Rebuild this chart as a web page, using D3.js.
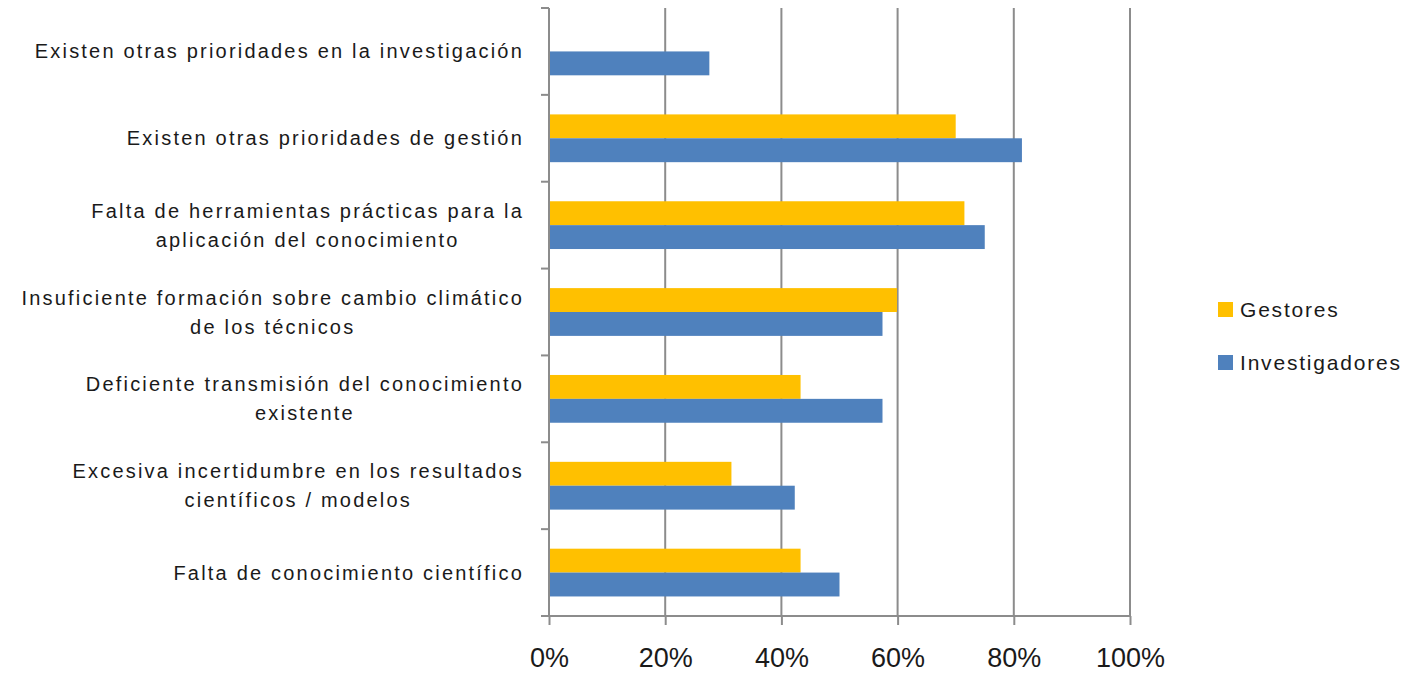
<!DOCTYPE html>
<html>
<head>
<meta charset="utf-8">
<script src="https://cdn.jsdelivr.net/npm/d3@7"></script>
<style>
  body { margin: 0; background: #fff; }
  text { font-family: 'Liberation Sans', Arial, sans-serif; fill: #1a1a1a; }
</style>
</head>
<body>
<div class="canvas"></div>
<script>
const categories = [
  ['Existen otras prioridades en la investigación'],
  ['Existen otras prioridades de gestión'],
  ['Falta de herramientas prácticas para la', 'aplicación del conocimiento'],
  ['Insuficiente formación sobre cambio climático', 'de los técnicos'],
  ['Deficiente transmisión del conocimiento', 'existente'],
  ['Excesiva incertidumbre en los resultados', 'científicos / modelos'],
  ['Falta de conocimiento científico']
]
const seriesNames = ['Gestores', 'Investigadores']
const gestores = [null, 70.0, 71.5, 59.9, 43.3, 31.4, 43.3]
const investigadores = [27.6, 81.4, 75.0, 57.4, 57.4, 42.3, 50.0]
const xTicks = [0, 20, 40, 60, 80, 100]
const colors = ['#FFC000', '#4F81BD']

const width = 1412
const height = 673
const margin = { top: 8, right: 282, bottom: 57, left: 549 }
const graphWidth = width - margin.left - margin.right
const graphHeight = height - margin.top - margin.bottom

const svg = d3.select('.canvas').append('svg')
  .attr('width', width)
  .attr('height', height)

const graph = svg.append('g')
  .attr('transform', `translate(${margin.left}, ${margin.top})`)

const x = d3.scaleLinear()
  .domain([0, 100])
  .range([0, graphWidth])

const y = d3.scaleBand()
  .domain(d3.range(categories.length))
  .range([0, graphHeight])
  .paddingInner(0.45)
  .paddingOuter(0.225)

const y1 = d3.scaleBand()
  .domain(seriesNames)
  .range([0, y.bandwidth()])

// gridlines
graph.append('g')
  .selectAll('line')
  .data(xTicks.slice(1))
  .join('line')
  .attr('x1', d => x(d)).attr('x2', d => x(d))
  .attr('y1', 0).attr('y2', graphHeight)
  .attr('stroke', '#8c8c8c')
  .attr('stroke-width', 2)

// bars
const data = []
categories.forEach((c, i) => {
  if (gestores[i] != null) data.push({ i, s: 'Gestores', v: gestores[i], c: colors[0] })
  data.push({ i, s: 'Investigadores', v: investigadores[i], c: colors[1] })
})

graph.append('g')
  .selectAll('rect')
  .data(data)
  .join('rect')
  .attr('x', 0)
  .attr('y', d => y(d.i) + y1(d.s))
  .attr('width', d => x(d.v))
  .attr('height', y1.bandwidth())
  .attr('fill', d => d.c)

// left axis with ticks between categories
const yEdge = d3.scaleLinear().domain([0, categories.length]).range([0, graphHeight])
const yAxisGroup = graph.append('g')
yAxisGroup.append('line')
  .attr('x1', 0).attr('x2', 0).attr('y1', 0).attr('y2', graphHeight)
  .attr('stroke', '#8c8c8c').attr('stroke-width', 2)
yAxisGroup.selectAll('.tick')
  .data(d3.range(categories.length + 1))
  .join('line')
  .attr('x1', -8).attr('x2', 0)
  .attr('y1', d => yEdge(d)).attr('y2', d => yEdge(d))
  .attr('stroke', '#8c8c8c').attr('stroke-width', 2)

// bottom axis
const xAxis = d3.axisBottom(x)
  .tickValues(xTicks)
  .tickSize(9)
  .tickPadding(23)
  .tickFormat(d => `${d}%`)

const xAxisGroup = graph.append('g')
  .attr('transform', `translate(0, ${graphHeight})`)
  .call(xAxis)

xAxisGroup.select('.domain')
  .attr('d', `M-8,0H${graphWidth}`)
  .attr('stroke', '#8c8c8c').attr('stroke-width', 2)
xAxisGroup.selectAll('.tick line')
  .attr('stroke', '#8c8c8c').attr('stroke-width', 2)
xAxisGroup.selectAll('.tick text')
  .attr('font-family', "'Liberation Sans', Arial, sans-serif")
  .attr('font-size', 27)
  .attr('fill', '#1a1a1a')

// category labels, right-aligned blocks with centred lines
const labelRight = 524 - margin.left
const lineHeight = 29
categories.forEach((lines, i) => {
  const cy = y(i) + y.bandwidth() / 2
  const g = graph.append('g')
  const texts = lines.map((l, k) => g.append('text')
    .attr('font-size', 20)
    .attr('letter-spacing', 2.2)
    .attr('text-anchor', 'middle')
    .attr('dominant-baseline', 'central')
    .attr('y', cy + (k - (lines.length - 1) / 2) * lineHeight)
    .text(l))
  const maxW = d3.max(texts, t => t.node().getComputedTextLength())
  texts.forEach(t => t.attr('x', labelRight - maxW / 2))
})

// legend
const legend = svg.append('g')
  .attr('transform', 'translate(1218, 309)')
seriesNames.forEach((s, k) => {
  const row = legend.append('g').attr('transform', `translate(0, ${k * 53})`)
  row.append('rect')
    .attr('x', 0).attr('y', -7)
    .attr('width', 15).attr('height', 15)
    .attr('fill', colors[k])
  row.append('text')
    .attr('x', 22)
    .attr('dominant-baseline', 'central')
    .attr('font-size', 21)
    .attr('letter-spacing', 1.8)
    .text(s)
})
</script>
</body>
</html>
